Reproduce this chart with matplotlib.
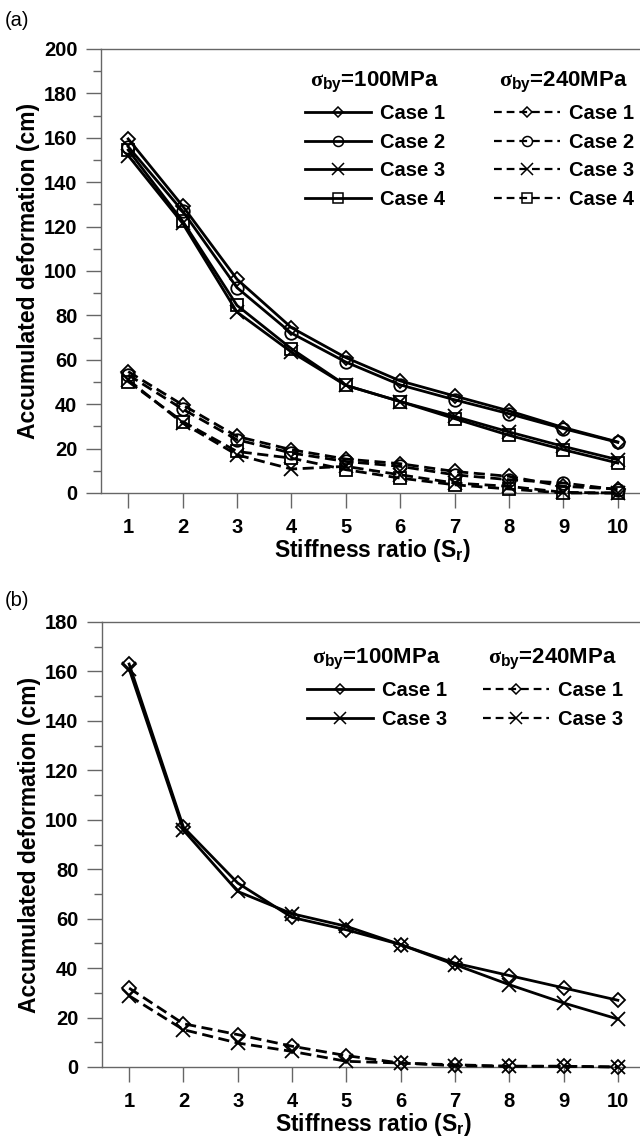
import numpy as np
import matplotlib
matplotlib.use("Agg")
import matplotlib.pyplot as plt
from matplotlib.lines import Line2D
from matplotlib.ticker import MultipleLocator

plt.rcParams['font.family'] = ['Liberation Sans', 'DejaVu Sans']
plt.rcParams['font.weight'] = 'bold'
plt.rcParams['mathtext.fontset'] = 'custom'
plt.rcParams['mathtext.rm'] = 'Liberation Sans:bold'
plt.rcParams['mathtext.bf'] = 'Liberation Sans:bold'
plt.rcParams['mathtext.it'] = 'Liberation Serif'

# stiffness ratio
sr = [1, 2, 3, 4, 5, 6, 7, 8, 9, 10]

# panel (a), sigma_by = 100 MPa
a100_case1 = [159.5, 129.3, 96.3, 74.5, 61.0, 50.5, 43.7, 37.0, 29.5, 23.0]
a100_case2 = [156.0, 127.0, 92.5, 72.0, 59.0, 48.7, 42.0, 35.7, 29.0, 22.8]
a100_case3 = [152.0, 121.5, 81.5, 63.5, 48.5, 41.2, 34.5, 27.5, 21.0, 15.0]
a100_case4 = [154.5, 122.5, 84.5, 65.0, 48.5, 41.2, 33.5, 26.0, 19.5, 13.5]
# panel (a), sigma_by = 240 MPa
a240_case1 = [54.7, 39.7, 25.5, 19.5, 15.3, 13.2, 9.7, 7.5, 3.0, 1.8]
a240_case2 = [53.2, 37.8, 24.0, 18.0, 14.2, 12.0, 8.2, 6.0, 4.5, 1.5]
a240_case3 = [51.0, 31.5, 17.2, 10.8, 12.0, 8.2, 4.5, 3.0, 0.3, 0.0]
a240_case4 = [50.2, 32.2, 18.7, 15.7, 10.5, 6.7, 3.7, 1.8, 0.0, 0.0]

# panel (b)
b100_case1 = [163.0, 97.0, 74.4, 60.5, 55.5, 49.5, 42.0, 37.0, 32.0, 27.0]
b100_case3 = [161.0, 95.8, 71.0, 62.0, 56.9, 49.5, 41.4, 33.3, 25.9, 19.4]
b240_case1 = [31.9, 17.5, 13.1, 8.4, 4.6, 1.6, 0.9, 0.3, 0.3, 0.0]
b240_case3 = [28.8, 15.1, 9.7, 6.3, 2.3, 1.6, 0.5, 0.3, 0.3, 0.0]

case_labels = ['Case 1', 'Case 2', 'Case 3', 'Case 4']
markers = {'Case 1': 'D', 'Case 2': 'o', 'Case 3': 'x', 'Case 4': 's'}
msizes = {'Case 1': 7, 'Case 2': 9, 'Case 3': 10, 'Case 4': 9}
title100 = r'$\sigma_{\mathrm{by}}$=100MPa'
title240 = r'$\sigma_{\mathrm{by}}$=240MPa'

FS = 14.5     # ticks / legend
TFS = 16      # legend titles
LFS = 16.5    # axis labels
LW = 2.0
DASH = (0, (4, 2))
SPINE = '#666666'

fig = plt.figure(figsize=(6.4, 11.38), dpi=100)
ax_a = fig.add_axes([101/640, 1-493/1138, 544/640, 444/1138])
ax_b = fig.add_axes([102/640, 1-1067/1138, 543/640, 445/1138])


def style_axes(ax, ymax):
    ax.set_xlim(0.5, 10.5)
    ax.set_ylim(0, ymax)
    ax.set_xticks(sr)
    ax.yaxis.set_major_locator(MultipleLocator(20))
    ax.yaxis.set_minor_locator(MultipleLocator(10))
    ax.tick_params(axis='both', which='major', direction='out', length=11,
                   width=1, color=SPINE, labelsize=FS)
    ax.tick_params(axis='x', which='major', pad=7)
    ax.tick_params(axis='y', which='major', pad=6)
    ax.tick_params(axis='y', which='minor', direction='out', length=6,
                   width=1, color=SPINE)
    for lab in ax.get_xticklabels() + ax.get_yticklabels():
        lab.set_fontweight('bold')
    for s in ['left', 'bottom', 'top']:
        ax.spines[s].set_color(SPINE)
        ax.spines[s].set_linewidth(1)
    ax.spines['right'].set_visible(False)
    ax.set_xlabel(r'Stiffness ratio (S$_\mathrm{r}$)', fontsize=LFS,
                  fontweight='bold', labelpad=0)
    ax.set_ylabel('Accumulated deformation (cm)', fontsize=LFS,
                  fontweight='bold', labelpad=3)


def draw(ax, series, cases):
    h100, h240 = [], []
    for vals, c in zip(series[0], cases):
        ax.plot(sr, vals, color='black', lw=LW, marker=markers[c],
                ms=msizes[c], mfc='none', mec='black', mew=1.3,
                clip_on=False, zorder=3)
        h100.append(Line2D([], [], color='black', lw=LW, marker=markers[c],
                           ms=msizes[c]*0.8, mfc='none', mec='black', mew=1.1))
    for vals, c in zip(series[1], cases):
        ax.plot(sr, vals, color='black', lw=LW, ls=DASH, marker=markers[c],
                ms=msizes[c], mfc='none', mec='black', mew=1.3,
                clip_on=False, zorder=3)
        h240.append(Line2D([], [], color='black', lw=1.6, ls=(0, (3.5, 2.2)),
                           marker=markers[c], ms=msizes[c]*0.8, mfc='none',
                           mec='black', mew=1.1))
    return h100, h240


def legends(ax, h100, h240, cases, x1, x2, ytop):
    kw = dict(frameon=False, loc='upper left', fontsize=FS,
              title_fontsize=TFS, handlelength=3.3, handletextpad=0.4,
              labelspacing=0.48, borderpad=0, borderaxespad=0)
    l1 = ax.legend(h100, cases, title=title100,
                   bbox_to_anchor=(x1, ytop), **kw)
    for t in l1.get_texts():
        t.set_fontweight('bold')
    ax.add_artist(l1)
    l2 = ax.legend(h240, cases, title=title240,
                   bbox_to_anchor=(x2, ytop), **kw)
    for t in l2.get_texts():
        t.set_fontweight('bold')


style_axes(ax_a, 200)
ha100, ha240 = draw(ax_a, ([a100_case1, a100_case2, a100_case3, a100_case4],
                           [a240_case1, a240_case2, a240_case3, a240_case4]),
                    case_labels)
legends(ax_a, ha100, ha240, case_labels, (305-101)/544, (494-101)/544,
        1-(70-49)/444)

style_axes(ax_b, 180)
cases_b = ['Case 1', 'Case 3']
hb100, hb240 = draw(ax_b, ([b100_case1, b100_case3], [b240_case1, b240_case3]),
                    cases_b)
legends(ax_b, hb100, hb240, cases_b, (307-102)/543, (483-102)/543,
        1-(647-622)/445)

fig.text(5/640, 1-20/1138, '(a)', fontsize=FS, fontweight='normal', va='center')
fig.text(5/640, 1-600/1138, '(b)', fontsize=FS, fontweight='normal', va='center')

fig.savefig('out.png', dpi=100)
